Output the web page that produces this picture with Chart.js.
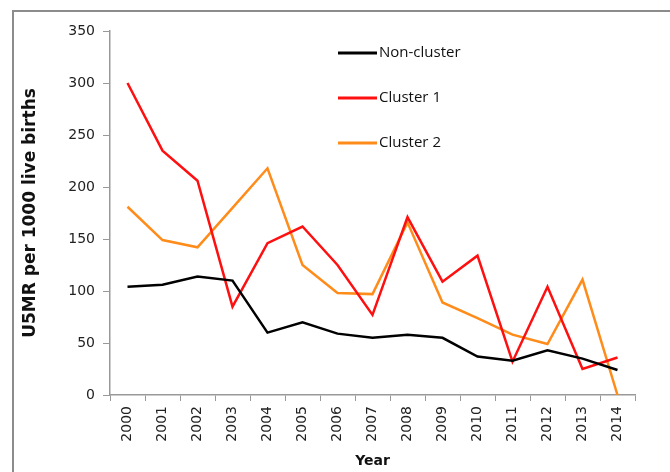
<!DOCTYPE html>
<html>
<head>
<meta charset="utf-8">
<script src="https://cdn.jsdelivr.net/npm/chart.js@4"></script>
<style>
  html, body { margin: 0; padding: 0; background: #fff; }
  #wrap { position: relative; width: 670px; height: 472px; overflow: hidden; }
  #frame { position: absolute; left: 12px; top: 10px; width: 700px; height: 500px;
           border-top: 2px solid #8c8c8c; border-left: 2px solid #8c8c8c; }
  canvas { position: absolute; left: 0; top: 0; }
</style>
</head>
<body>
<div id="wrap">
  <div id="frame"></div>
  <canvas id="chart" width="670" height="472"></canvas>
</div>
<script>
// Data
const years = ['2000', '2001', '2002', '2003', '2004', '2005', '2006', '2007',
               '2008', '2009', '2010', '2011', '2012', '2013', '2014'];
const nonCluster = [104, 106, 114, 110, 60, 70, 59, 55, 58, 55, 37, 33, 43, 35, 24];
const cluster1 = [300, 235, 206, 85, 146, 162, 125, 77, 171, 109, 134, 32, 104, 25, 36];
const cluster2 = [181, 149, 142, 180, 218, 125, 98, 97, 166, 89, 74, 58, 49, 111, 0];
const yTicks = [0, 50, 100, 150, 200, 250, 300, 350];

const tickFont = { family: '"DejaVu Sans", sans-serif', size: 14 };

// Legend drawn as a stacked list inside the plot, like the original
const stackedLegend = {
  id: 'stackedLegend',
  afterDraw(chart) {
    const ctx = chart.ctx;
    ctx.save();
    ctx.font = '15px "Open Sans", "Liberation Sans", sans-serif';
    ctx.textBaseline = 'middle';
    chart.data.datasets.forEach((ds, i) => {
      const y = 53 + i * 45;
      ctx.strokeStyle = ds.borderColor;
      ctx.lineWidth = 3;
      ctx.beginPath();
      ctx.moveTo(338, y);
      ctx.lineTo(377, y);
      ctx.stroke();
      ctx.fillStyle = '#111';
      ctx.fillText(ds.label, 379, y);
    });
    ctx.restore();
  }
};

const ctx = document.getElementById('chart').getContext('2d');
new Chart(ctx, {
  type: 'line',
  data: {
    labels: years,
    datasets: [
      { label: 'Non-cluster', data: nonCluster, borderColor: '#000000' },
      { label: 'Cluster 1', data: cluster1, borderColor: '#ff1010' },
      { label: 'Cluster 2', data: cluster2, borderColor: '#ff8c1a' },
    ],
  },
  options: {
    responsive: false,
    animation: false,
    elements: {
      line: { borderWidth: 2.5, tension: 0, fill: false },
      point: { radius: 0 },
    },
    layout: { padding: { left: 0, top: 31, right: 35, bottom: 0 } },
    plugins: {
      legend: { display: false },
      tooltip: { enabled: false },
    },
    scales: {
      x: {
        offset: true,
        grid: { offset: true, drawOnChartArea: false, tickLength: 6, color: '#999' },
        border: { color: '#999', width: 1.5 },
        ticks: { font: tickFont, color: '#222', minRotation: 90, maxRotation: 90, padding: 5 },
        title: {
          display: true, text: 'Year', color: '#111',
          font: { family: '"DejaVu Sans", sans-serif', size: 14, weight: 'bold' },
          padding: { top: 0, bottom: 2 },
        },
        afterFit(scale) { scale.height = 77; },
      },
      y: {
        min: 0,
        max: 350,
        afterBuildTicks(scale) { scale.ticks = yTicks.map((v) => ({ value: v })); },
        grid: { drawOnChartArea: false, tickLength: 7, color: '#999' },
        border: { color: '#999', width: 1.5 },
        ticks: { font: tickFont, color: '#222', padding: 8 },
        title: {
          display: true, text: 'U5MR per 1000 live births', color: '#111',
          font: { family: '"DejaVu Sans", sans-serif', size: 17, weight: 'bold' },
          padding: { top: 20, bottom: 0 },
        },
        afterFit(scale) { scale.width = 110; },
      },
    },
  },
  plugins: [stackedLegend],
});
</script>
</body>
</html>
